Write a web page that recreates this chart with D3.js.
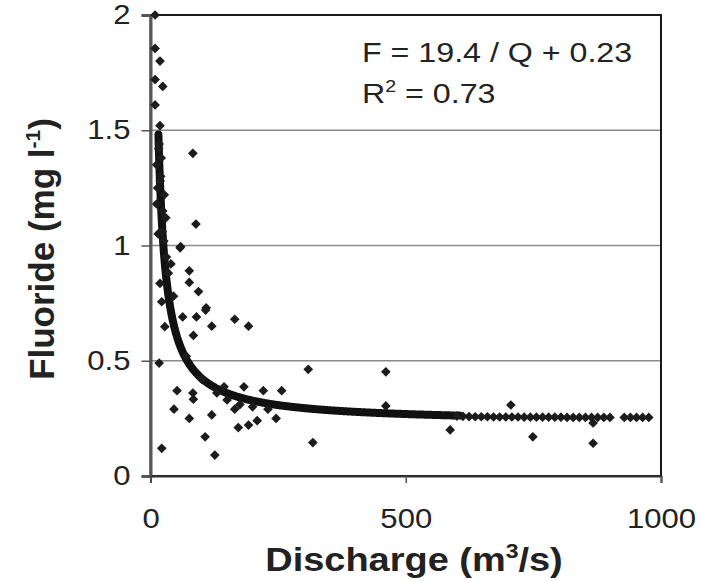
<!DOCTYPE html>
<html><head><meta charset="utf-8">
<script src="https://cdn.jsdelivr.net/npm/d3@7"></script>
<style>body{margin:0;background:#fff}svg{display:block}text{font-family:"Liberation Sans",Arial,sans-serif}</style>
</head><body>
<svg id="c" width="701" height="581"></svg>
<script>
const obsQ = [9, 9, 18.6, 9, 24, 9, 18.6, 17, 83, 89, 59, 58, 76, 76, 94, 109, 108, 90, 63, 120, 84, 165, 192, 18.6, 22, 28, 40, 17, 309, 52, 83, 84, 46, 76, 120, 107, 126, 22, 183, 221, 257, 165, 172, 192, 209, 246, 318, 461, 461, 587, 706, 749, 867, 867, 144, 12, 14, 30, 35, 26, 12, 15, 45, 70, 100, 130, 150, 175, 200, 230, 20, 24, 27, 21, 31, 16, 23, 19];
const obsF = [2.0, 1.855, 1.80, 1.72, 1.69, 1.61, 1.52, 1.44, 1.40, 1.093, 0.995, 0.99, 0.89, 0.84, 0.80, 0.73, 0.72, 0.69, 0.69, 0.65, 0.61, 0.68, 0.65, 0.836, 0.756, 0.648, 0.92, 0.49, 0.463, 0.37, 0.36, 0.333, 0.29, 0.25, 0.265, 0.17, 0.091, 0.12, 0.387, 0.37, 0.37, 0.29, 0.21, 0.221, 0.24, 0.25, 0.145, 0.452, 0.304, 0.20, 0.308, 0.17, 0.142, 0.23, 0.387, 1.35, 1.25, 1.12, 0.88, 1.02, 1.18, 1.05, 0.78, 0.52, 0.42, 0.36, 0.33, 0.31, 0.30, 0.29, 1.30, 1.15, 1.22, 1.38, 0.95, 1.42, 1.06, 1.28];
// Points close to the fitted curve at high discharge
const tailQ = [600, 612, 624, 636, 648, 660, 672, 684, 696, 708, 720, 732, 744, 756, 768, 780, 792, 804, 816, 828, 840, 852, 864, 876, 888, 900, 928, 940, 952, 964, 976];
const tailF = [0.260, 0.259, 0.258, 0.257, 0.257, 0.257, 0.256, 0.256, 0.256, 0.256, 0.256, 0.255, 0.255, 0.255, 0.255, 0.255, 0.255, 0.255, 0.254, 0.254, 0.254, 0.254, 0.254, 0.254, 0.254, 0.254, 0.254, 0.254, 0.254, 0.254, 0.254];
// Fitted model shown on the chart: F = a / Q + b
const fitA = 19.4, fitB = 0.23;
const fitRange = [15.5, 605];
const xTicks = [0, 500, 1000];
const yTicks = [0, 0.5, 1, 1.5, 2];

const SX = 1.15; // horizontal stretch of the reference's lettering
const svg = d3.select("#c");
const x = d3.scaleLinear().domain([0, 1000]).range([150.5, 661]);
const y = d3.scaleLinear().domain([0, 2]).range([476, 15]);

// gridlines
svg.append("g").selectAll("line").data(yTicks.filter(d => d > 0 && d < 2)).join("line")
  .attr("x1", x(0)).attr("x2", x(1000)).attr("y1", d => y(d)).attr("y2", d => y(d))
  .attr("stroke", "#8a8a8a").attr("stroke-width", 1.3);

// plot frame
svg.append("rect").attr("x", x(0)).attr("y", y(2)).attr("width", x(1000) - x(0)).attr("height", y(0) - y(2))
  .attr("fill", "none").attr("stroke", "#1a1a1a").attr("stroke-width", 2);

// axes
const yAxis = d3.axisLeft(y).tickValues(yTicks).tickSize(9).tickPadding(0).tickFormat(d3.format("~g"));
const gy = svg.append("g").attr("transform", `translate(${x(0)},0)`).call(yAxis);
gy.select(".domain").attr("stroke", "#555").attr("stroke-width", 3);
gy.selectAll(".tick line").attr("stroke", "#555").attr("stroke-width", 1.5);
gy.selectAll(".tick text").attr("x", 0).attr("transform", "translate(-20,0) scale(" + SX + ",1)")
  .attr("font-size", 27).attr("fill", "#222").attr("font-family", "Liberation Sans, Arial, sans-serif");

const xAxis = d3.axisBottom(x).tickValues(xTicks).tickSize(7).tickPadding(26).tickFormat(d3.format("d"));
const gx = svg.append("g").attr("transform", `translate(0,${y(0)})`).call(xAxis);
gx.select(".domain").attr("stroke", "#333").attr("stroke-width", 2);
gx.selectAll(".tick line").attr("stroke", "#555").attr("stroke-width", 1.5);
gx.selectAll(".tick text").attr("transform", "scale(" + SX + ",1)")
  .attr("font-size", 27).attr("fill", "#222").attr("font-family", "Liberation Sans, Arial, sans-serif");

// fitted curve
const fitPts = d3.range(fitRange[0], fitRange[1], 1).map(q => [q, fitA / q + fitB]);
svg.append("path").datum(fitPts)
  .attr("d", d3.line().x(d => x(d[0])).y(d => y(d[1])))
  .attr("fill", "none").attr("stroke", "#111").attr("stroke-width", 8).attr("stroke-linecap", "round");

// markers
const diamond = d3.symbol().type(d3.symbolDiamond2).size(60);
const pts = obsQ.map((q, i) => [q, obsF[i]]).concat(tailQ.map((q, i) => [q, tailF[i]]));
svg.append("g").selectAll("path").data(pts).join("path")
  .attr("transform", d => `translate(${x(d[0])},${y(d[1])})`)
  .attr("d", diamond).attr("fill", "#1c1c1c");

// equation
const eq = svg.append("text").attr("transform", `translate(362,62) scale(${SX},1)`).attr("font-size", 28).attr("fill", "#222");
eq.text("F = 19.4 / Q + 0.23");
const r2 = svg.append("text").attr("transform", `translate(362,103) scale(${SX},1)`).attr("font-size", 28).attr("fill", "#222");
r2.append("tspan").text("R");
r2.append("tspan").attr("font-size", 17).attr("dy", -11).text("2");
r2.append("tspan").attr("dy", 11).text(" = 0.73");

// axis titles
const xt = svg.append("text").attr("transform", `translate(414,571) scale(${SX},1)`).attr("text-anchor", "middle")
  .attr("font-size", 33).attr("font-weight", "bold").attr("fill", "#222");
xt.append("tspan").text("Discharge (m");
xt.append("tspan").attr("font-size", 20).attr("dy", -13).text("3");
xt.append("tspan").attr("dy", 13).text("/s)");

const yt = svg.append("text").attr("transform", "translate(54,249) rotate(-90)").attr("text-anchor", "middle")
  .attr("font-size", 35).attr("font-weight", "bold").attr("fill", "#222");
yt.append("tspan").text("Fluoride (mg l");
yt.append("tspan").attr("font-size", 21).attr("dy", -14).text("-1");
yt.append("tspan").attr("dy", 14).text(")");
</script>
</body></html>
